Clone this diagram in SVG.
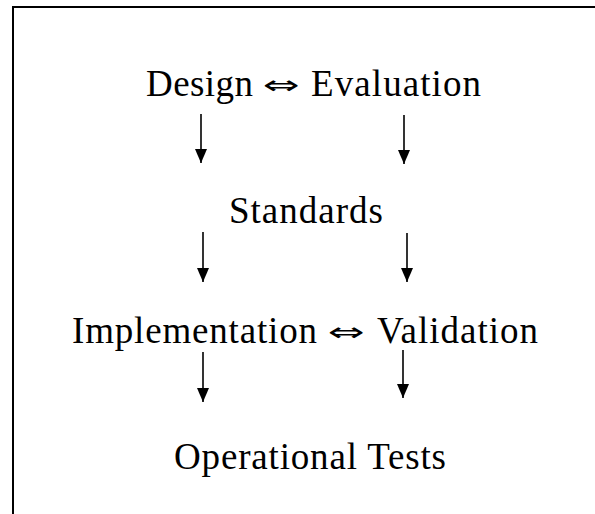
<svg xmlns="http://www.w3.org/2000/svg" width="595" height="514" viewBox="0 0 595 514">
  <defs>
    <style>
      .t { font-family: "Liberation Serif", "Times New Roman", serif; font-size: 37px; fill: #000; }
      .s { font-family: "DejaVu Sans", "DejaVu Serif", sans-serif; font-size: 26px; fill: #000; }
      .c { stroke: #000; stroke-width: 1.6; fill: none; }
    </style>
    <marker id="ah" viewBox="0 -6 14 12" refX="14" refY="0" markerWidth="14" markerHeight="12" markerUnits="userSpaceOnUse" orient="auto">
      <path d="M0,-6 L14,0 L0,6 z" fill="#000"/>
    </marker>
  </defs>
  <rect x="0" y="0" width="595" height="514" fill="#fff"/>
  <rect id="frame" x="13" y="7" width="620" height="540" fill="none" stroke="#000" stroke-width="2"/>

  <g id="design-evaluation">
    <text class="t" x="146" y="96" textLength="107" lengthAdjust="spacing">Design</text>
    <text class="s" x="263" y="94" textLength="37" lengthAdjust="spacingAndGlyphs">⇔</text>
    <text class="t" x="311" y="96" textLength="170" lengthAdjust="spacing">Evaluation</text>
  </g>
  <g id="standards">
    <text class="t" x="229" y="223" textLength="154" lengthAdjust="spacing">Standards</text>
  </g>
  <g id="implementation-validation">
    <text class="t" x="72" y="343" textLength="245" lengthAdjust="spacing">Implementation</text>
    <text class="s" x="328" y="341" textLength="37" lengthAdjust="spacingAndGlyphs">⇔</text>
    <text class="t" x="377" y="343" textLength="161" lengthAdjust="spacing">Validation</text>
  </g>
  <g id="operational-tests">
    <text class="t" x="174" y="469" textLength="272" lengthAdjust="spacing">Operational Tests</text>
  </g>

  <g id="connectors">
    <line class="c" x1="201" y1="114" x2="201" y2="163" marker-end="url(#ah)"/>
    <line class="c" x1="404" y1="115" x2="404" y2="164" marker-end="url(#ah)"/>
    <line class="c" x1="203" y1="232" x2="203" y2="282" marker-end="url(#ah)"/>
    <line class="c" x1="407" y1="233" x2="407" y2="282" marker-end="url(#ah)"/>
    <line class="c" x1="203" y1="352" x2="203" y2="402" marker-end="url(#ah)"/>
    <line class="c" x1="403" y1="350" x2="403" y2="398" marker-end="url(#ah)"/>
  </g>
</svg>
